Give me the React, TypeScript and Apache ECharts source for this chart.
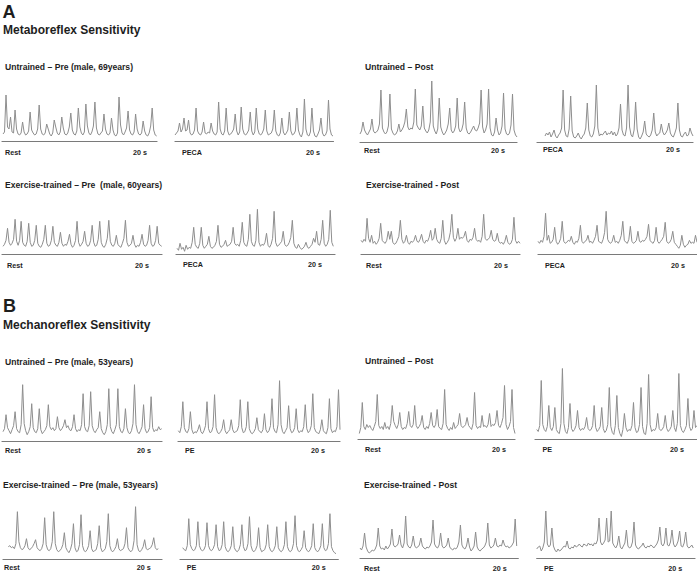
import React, { useEffect, useRef } from "react";
import * as echarts from "echarts";

const FONT = '"Liberation Sans", Arial, Helvetica, sans-serif';

// ---------- DATA (burst amplitude above each panel's baseline, evenly sampled) ----------
// A. Metaboreflex — Untrained Pre
const aUntrainedPreRest = [7,9,46,14,12,24,9,8,31,12,7,6,8,19,9,6,7,10,29,11,8,6,7,12,36,12,7,6,8,17,12,7,5,8,21,14,8,6,9,24,13,7,6,8,14,28,11,7,6,10,33,14,8,6,9,37,15,8,6,9,15,39,13,7,6,8,10,27,12,7,6,8,23,11,6,5,8,44,16,8,6,9,13,30,11,7,6,9,27,12,7,6,8,20,10,6,5,8,15,33,11,6,5];
const aUntrainedPrePeca = [6,8,10,18,9,12,23,10,11,21,8,6,7,11,33,10,7,6,9,19,8,7,9,8,18,10,7,6,9,39,12,7,6,10,33,10,6,7,9,12,27,10,6,9,34,12,7,6,8,11,29,10,6,9,33,12,7,6,8,12,31,10,6,7,8,12,31,10,6,5,8,23,9,6,8,11,29,10,6,7,10,33,11,6,4,9,42,12,6,5,9,33,10,5,4,7,11,23,8,5,6,10,41,12,6,5];
// A. Metaboreflex — Untrained Post
const aUntrainedPostRest = [8,11,20,12,9,7,10,13,23,11,9,10,12,18,52,14,10,8,10,16,48,13,9,7,8,11,18,10,12,15,20,33,15,12,14,13,20,53,17,14,12,16,36,14,11,9,12,20,61,16,11,8,13,44,15,10,7,9,12,18,34,12,9,11,16,44,14,10,12,18,40,14,9,8,10,13,16,12,11,14,19,52,15,9,12,18,53,14,7,6,10,24,12,7,9,16,49,13,8,7,9,17,48,12,7,5];
const aUntrainedPostPeca = [6,9,7,10,5,8,12,6,4,7,9,14,52,12,6,5,13,46,11,5,4,6,9,5,3,6,8,14,39,12,6,5,8,16,57,14,6,8,7,9,11,7,9,8,11,7,10,6,8,14,38,12,7,6,14,57,15,7,5,12,40,13,5,3,6,10,21,8,6,5,7,12,29,10,6,8,9,18,10,7,9,12,19,9,6,5,9,14,39,12,6,5,8,10,6,7,14,9,6];
// A. Metaboreflex — Exercise-trained Pre
const aTrainedPreRest = [8,10,14,26,12,9,11,15,35,13,9,14,33,12,9,8,13,31,12,8,9,14,29,11,8,7,10,15,29,11,8,9,14,28,12,9,8,12,22,11,8,10,9,13,20,10,7,9,14,33,12,8,10,13,23,11,8,9,14,29,12,8,9,15,33,12,8,7,10,16,34,13,9,8,11,19,10,8,7,11,16,34,12,8,9,11,19,10,7,9,8,12,20,10,8,9,14,29,11,8,9,14,28,11,9,8];
const aTrainedPrePeca = [6,4,11,5,7,3,9,5,7,6,12,27,10,7,6,11,27,9,6,8,10,18,8,6,7,9,13,29,10,7,8,10,14,8,9,10,13,27,11,9,10,8,14,32,12,9,8,15,40,13,9,8,14,45,12,8,10,9,12,21,9,7,10,16,43,12,8,9,11,13,23,10,8,9,12,17,34,11,7,6,10,7,5,6,8,12,7,6,8,10,16,12,23,10,9,15,34,11,8,10,15,44,12,8];
// A. Metaboreflex — Exercise-trained Post
const aTrainedPostRest = [14,12,15,13,36,16,12,19,11,13,10,12,16,31,14,12,11,14,23,15,23,12,10,11,14,18,34,15,11,13,19,12,10,13,12,14,19,13,12,15,20,13,11,14,13,17,24,14,16,26,15,12,11,16,34,14,10,12,15,22,40,17,13,16,26,15,17,16,18,23,14,12,15,14,17,26,15,13,14,12,18,40,16,14,15,17,24,15,13,14,21,13,11,12,10,13,19,12,10,11,15,37,14,11,13,11];
const aTrainedPostPeca = [13,11,14,12,18,41,14,19,11,12,15,27,13,10,12,16,33,13,11,12,14,13,18,12,10,13,12,16,29,13,11,13,14,19,12,13,11,14,18,29,13,12,11,15,22,43,15,12,11,13,19,12,13,11,14,19,33,14,12,11,15,28,13,11,12,14,23,13,12,14,13,15,18,30,14,12,11,14,27,13,11,13,15,18,32,13,11,12,15,23,12,10,8,6,9,19,10,7,9,10,14,11,12,11,19,12];
// B. Mechanoreflex — Untrained Pre
const bUntrainedPreRest = [10,13,27,14,11,8,12,16,30,13,10,9,17,57,18,11,7,10,15,38,14,10,9,13,33,12,8,10,12,16,37,15,12,14,11,13,25,14,11,13,16,22,14,16,12,11,15,27,13,10,12,11,17,48,15,11,10,16,50,16,11,9,12,14,30,13,9,7,10,17,53,15,10,8,12,17,53,15,10,9,13,33,14,9,8,11,18,57,17,10,8,11,15,37,13,9,10,14,45,14,10,12,11,15,12,13];
const bUntrainedPrePe = [11,9,15,40,14,10,9,13,30,12,8,10,9,12,17,10,8,11,16,40,13,9,10,15,47,14,9,8,10,13,22,11,8,10,12,22,12,9,10,11,16,42,14,9,10,15,40,13,9,8,10,13,24,12,10,9,12,28,12,9,11,16,43,14,10,9,17,61,17,10,8,11,14,36,13,9,10,14,33,12,9,11,10,15,37,13,9,11,16,48,14,10,9,8,12,22,11,9,8,14,43,13,9,11,10,15,52,12];
// B. Mechanoreflex — Untrained Post
const bUntrainedPostRest = [6,12,37,13,10,15,12,14,11,9,13,18,45,14,11,13,10,17,11,13,10,16,34,18,14,11,15,27,13,10,12,11,16,28,14,12,15,34,14,11,13,16,24,12,10,13,11,16,27,14,12,15,30,13,11,10,16,50,15,11,9,12,10,17,11,13,15,26,14,12,13,15,22,14,12,10,16,47,14,11,13,12,24,13,14,12,15,26,13,15,14,17,29,14,12,16,22,54,15,10,13,18,50,12,6];
const bUntrainedPostPe = [10,8,14,59,15,10,8,13,34,12,9,13,32,10,7,6,16,71,16,8,6,12,36,11,8,10,14,29,12,9,11,10,13,22,11,9,10,14,34,12,8,10,13,32,11,7,9,15,52,13,7,5,14,44,12,6,3,10,26,12,8,10,9,14,37,12,7,8,15,52,13,6,5,16,65,15,8,10,9,12,26,11,9,10,13,24,11,8,10,13,29,12,8,16,66,14,9,7,10,14,41,13,9,11,29,12,14];
// B. Mechanoreflex — Exercise-trained Pre
const bTrainedPreRest = [13,14,12,13,11,16,48,18,12,10,11,14,21,12,10,11,13,16,20,12,10,9,11,16,42,15,10,9,11,18,48,16,10,8,9,11,15,27,12,9,7,10,16,36,12,8,9,15,45,14,9,8,10,14,29,11,8,9,10,16,34,12,8,9,11,18,46,14,9,8,10,13,21,11,9,10,11,16,32,12,9,8,10,19,53,15,9,8,10,13,20,11,10,11,12,15,22,12,10,11];
const bTrainedPrePe = [12,10,9,14,41,15,11,9,10,14,38,14,10,9,10,14,37,14,10,9,11,15,35,13,9,10,15,38,13,9,8,10,14,33,12,9,8,10,15,35,13,9,10,16,43,14,9,8,10,14,32,12,8,9,10,15,35,13,9,8,10,14,33,12,9,8,10,15,38,13,9,8,10,16,44,14,9,8,10,13,29,12,9,8,10,14,36,12,9,8,10,14,36,12,9,10,16,46,13,9,7,6];
// B. Mechanoreflex — Exercise-trained Post
const bTrainedPostRest = [10,8,12,25,11,7,5,6,8,7,9,13,30,12,9,10,8,12,9,11,14,29,13,11,12,14,23,13,10,15,42,14,11,10,13,22,12,10,11,13,20,12,10,9,11,10,12,16,38,14,11,10,13,25,12,10,11,13,20,11,9,8,10,9,11,16,33,13,10,9,12,20,11,7,9,12,26,11,8,7,9,10,12,16,35,13,10,11,13,20,12,11,13,12,18,13,11,12,10,11,13,16,39,12];
const bTrainedPostPe = [9,11,12,7,10,16,47,14,11,13,30,12,8,6,9,7,8,10,12,11,17,10,9,11,10,13,11,12,14,12,11,14,13,12,15,13,14,12,15,14,18,40,16,13,15,18,40,16,17,47,15,12,10,13,22,11,9,12,15,28,12,10,11,16,36,13,10,9,11,12,15,11,10,12,11,13,12,10,12,14,18,31,14,12,15,30,13,12,16,28,14,11,13,17,27,12,11,15,26,12,10,11,13,10];

// ---------- TEXT ----------
const sectionTitles = ["A", "Metaboreflex Sensitivity", "B", "Mechanoreflex Sensitivity"];
const groupTitles = [
  "Untrained – Pre (male, 69years)",
  "Untrained – Post",
  "Exercise-trained – Pre  (male, 60years)",
  "Exercise-trained - Post",
  "Untrained – Pre (male, 53years)",
  "Untrained – Post",
  "Exercise-trained – Pre (male, 53years)",
  "Exercise-trained - Post",
];
const scaleLabel = "20 s";

// ---------- LAYOUT (pixel positions only) ----------
type Panel = {
  data: number[]; cond: string; base: number; ymax: number;
  lineL: number; lineR: number; traceL: number; traceR: number;
  condX: number; secX: number; labY: number;
};

const panels: Panel[] = [
  { data: aUntrainedPreRest, cond: "Rest", base: 141, ymax: 65, lineL: 2, lineR: 157, traceL: 3, traceR: 156.7, condX: 5, secX: 133, labY: 152.7 },
  { data: aUntrainedPrePeca, cond: "PECA", base: 141, ymax: 65, lineL: 175, lineR: 333.5, traceL: 175, traceR: 333, condX: 182, secX: 306, labY: 152 },
  { data: aUntrainedPostRest, cond: "Rest", base: 142, ymax: 65, lineL: 360, lineR: 517, traceL: 360, traceR: 517, condX: 364, secX: 491, labY: 150 },
  { data: aUntrainedPostPeca, cond: "PECA", base: 142, ymax: 65, lineL: 537, lineR: 693, traceL: 545, traceR: 693, condX: 543, secX: 666, labY: 149.5 },

  { data: aTrainedPreRest, cond: "Rest", base: 254.3, ymax: 50, lineL: 2, lineR: 162, traceL: 3, traceR: 161.7, condX: 7, secX: 135, labY: 265 },
  { data: aTrainedPrePeca, cond: "PECA", base: 254.3, ymax: 50, lineL: 176, lineR: 335, traceL: 177, traceR: 333.3, condX: 183, secX: 308, labY: 264.5 },
  { data: aTrainedPostRest, cond: "Rest", base: 254.3, ymax: 50, lineL: 361, lineR: 520, traceL: 361, traceR: 520, condX: 366, secX: 494, labY: 265 },
  { data: aTrainedPostPeca, cond: "PECA", base: 254.3, ymax: 50, lineL: 538, lineR: 697, traceL: 538, traceR: 697, condX: 545, secX: 671, labY: 265 },

  { data: bUntrainedPreRest, cond: "Rest", base: 441.7, ymax: 75, lineL: 2, lineR: 162, traceL: 3, traceR: 161.7, condX: 5, secX: 137, labY: 450 },
  { data: bUntrainedPrePe, cond: "PE", base: 441.7, ymax: 75, lineL: 178, lineR: 340, traceL: 178.3, traceR: 340, condX: 185, secX: 311, labY: 450 },
  { data: bUntrainedPostRest, cond: "Rest", base: 439.5, ymax: 75, lineL: 358, lineR: 515, traceL: 359.3, traceR: 515, condX: 365, secX: 492, labY: 449 },
  { data: bUntrainedPostPe, cond: "PE", base: 439.5, ymax: 75, lineL: 535, lineR: 697, traceL: 536.7, traceR: 697, condX: 542.5, secX: 670, labY: 449 },

  { data: bTrainedPreRest, cond: "Rest", base: 559.7, ymax: 60, lineL: 3, lineR: 162, traceL: 8.3, traceR: 158.3, condX: 4, secX: 136.7, labY: 567.5 },
  { data: bTrainedPrePe, cond: "PE", base: 559.7, ymax: 60, lineL: 180, lineR: 338.3, traceL: 182.7, traceR: 336, condX: 186.7, secX: 311.7, labY: 567.5 },
  { data: bTrainedPostRest, cond: "Rest", base: 558, ymax: 60, lineL: 360, lineR: 518.3, traceL: 360, traceR: 516.7, condX: 364, secX: 492.7, labY: 568 },
  { data: bTrainedPostPe, cond: "PE", base: 558, ymax: 60, lineL: 536.7, lineR: 695, traceL: 536.7, traceR: 693.3, condX: 544, secX: 668.3, labY: 568 },
];

const groupTitlePos = [
  [5, 66.7], [365, 66.7], [5, 184.5], [366, 184.5],
  [5, 361.7], [365, 360.7], [3, 485.3], [364, 485.3],
];

const TRACE = "#8e8e8e";
const AXIS = "#7a7a7a";
const INK = "#1e1e1e";

function txt(text: string, x: number, y: number, size: number) {
  return {
    type: "text",
    x,
    y,
    silent: true,
    style: {
      text,
      fill: INK,
      fontSize: size,
      fontWeight: "bold",
      fontFamily: FONT,
      align: "left",
      verticalAlign: "middle",
    },
  };
}

export default function App() {
  const ref = useRef<HTMLDivElement>(null);

  useEffect(() => {
    if (!ref.current) return;
    const chart = echarts.init(ref.current, null, { renderer: "svg" });

    const grid: any[] = [];
    const xAxis: any[] = [];
    const yAxis: any[] = [];
    const series: any[] = [];
    const graphic: any[] = [];

    panels.forEach((p, i) => {
      const n = p.data.length;
      const k = (n - 1) / (p.traceR - p.traceL);
      grid.push({
        left: p.lineL,
        top: p.base - p.ymax,
        width: p.lineR - p.lineL,
        height: p.ymax,
        containLabel: false,
      });
      xAxis.push({
        type: "value",
        gridIndex: i,
        min: -(p.traceL - p.lineL) * k,
        max: n - 1 + (p.lineR - p.traceR) * k,
        axisLine: { show: true, onZero: false, lineStyle: { color: AXIS, width: 1.2 } },
        axisTick: { show: false },
        axisLabel: { show: false },
        splitLine: { show: false },
      });
      yAxis.push({
        type: "value",
        gridIndex: i,
        min: 0,
        max: p.ymax,
        show: false,
        splitLine: { show: false },
      });
      series.push({
        type: "line",
        xAxisIndex: i,
        yAxisIndex: i,
        data: p.data.map((v, j) => [j, v]),
        showSymbol: false,
        symbol: "none",
        smooth: false,
        clip: false,
        lineStyle: { color: TRACE, width: 1 },
        silent: true,
      });
      graphic.push(txt(p.cond, p.condX, p.labY, 7.2));
      graphic.push(txt(scaleLabel, p.secX, p.labY, 7.2));
    });

    groupTitles.forEach((t, i) => {
      graphic.push(txt(t, groupTitlePos[i][0], groupTitlePos[i][1], 8.6));
    });

    graphic.push(txt(sectionTitles[0], 2.5, 11.5, 18));
    graphic.push(txt(sectionTitles[1], 3, 29.5, 12));
    graphic.push(txt(sectionTitles[2], 3, 305.5, 18));
    graphic.push(txt(sectionTitles[3], 3, 325, 12));

    chart.setOption({
      animation: false,
      backgroundColor: "#ffffff",
      grid,
      xAxis,
      yAxis,
      series,
      graphic,
    });

    return () => chart.dispose();
  }, []);

  return (
    <div
      ref={ref}
      style={{ position: "fixed", left: 0, top: 0, width: 697, height: 576, overflow: "hidden" }}
    />
  );
}
